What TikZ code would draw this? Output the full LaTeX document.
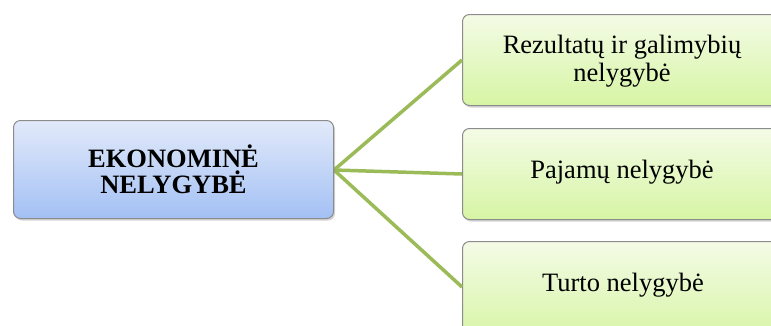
\documentclass[tikz,border=0pt]{standalone}
\usepackage{fontspec}
\setmainfont{Liberation Serif}
\usetikzlibrary{shadows}
\definecolor{linegreen}{HTML}{9BBB59}
\definecolor{boxgray}{HTML}{8C8C8C}
\definecolor{bluetop}{HTML}{E2EAFA}
\definecolor{bluebot}{HTML}{A3C0F4}
\definecolor{greentop}{HTML}{F4FBE6}
\definecolor{greenbot}{HTML}{D6F5A4}
\tikzset{
  mainbox/.style={draw=boxgray, line width=1pt, rounded corners=7pt, top color=bluetop, bottom color=bluebot,
    drop shadow={shadow xshift=1.5pt, shadow yshift=-2pt, opacity=0.35},
    minimum width=320pt, minimum height=98pt, align=center, inner sep=0pt,
    font=\fontsize{26.5}{25.5}\selectfont\bfseries},
  leafbox/.style={draw=boxgray, line width=1pt, rounded corners=7pt, top color=greentop, bottom color=greenbot,
    drop shadow={shadow xshift=1.5pt, shadow yshift=-2pt, opacity=0.35},
    minimum width=330pt, minimum height=91pt, inner sep=0pt},
  leaftext/.style={font=\fontsize{26.5}{28}\selectfont, align=center, inner sep=0pt},
  link/.style={draw=linegreen, line width=3.5pt}
}
\begin{document}
\begin{tikzpicture}[x=1pt,y=-1pt]
\useasboundingbox (0,0) rectangle (771,325);
\clip (0,0) rectangle (771,325);
\coordinate (hub) at (334,170);
\node[leafbox, anchor=north west] (r1) at (462,14) {};
\node[leafbox, anchor=north west] (r2) at (462,128) {};
\node[leafbox, anchor=north west, minimum height=100pt] (r3) at (462,241) {};
\node[leaftext] (t1) at (622,61) {Rezultatų ir galimybių\\nelygybė};
\node[leaftext] (t2) at (622,172) {Pajamų nelygybė};
\node[leaftext] (t3) at (623,285) {Turto nelygybė};
\coordinate (r3w) at (462,287);
\draw[link] (hub) -- (r1.west);
\draw[link] (hub) -- (r2.west);
\draw[link] (hub) -- (r3w);
\node[mainbox, anchor=north west] (main) at (13,120) {EKONOMINĖ\\NELYGYBĖ};
\end{tikzpicture}
\end{document}
